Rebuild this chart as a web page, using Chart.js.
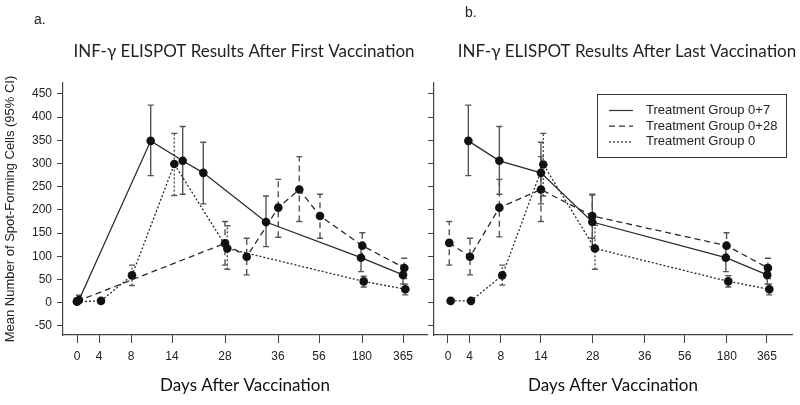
<!DOCTYPE html>
<html lang="en">
<head>
  <meta charset="UTF-8">
  <title>INF-γ ELISPOT</title>
  <script src="https://cdn.jsdelivr.net/npm/chart.js"></script>
  <style>
    body { margin: 0; background: #fff; }
    #wrap { position: relative; width: 800px; height: 405px; }
    canvas { position: absolute; left: 0; top: 0; }
  </style>
</head>
<body>
<div id="wrap">
  <canvas id="chartA" width="800" height="405"></canvas>
  <canvas id="chartB" width="800" height="405"></canvas>
</div>
<script>
  // x axis is not linear in days: each labelled day sits at its own position
  const tickDays = ['0', '4', '8', '14', '28', '36', '56', '180', '365'];
  const tickPos = [0, 22, 54, 95, 148, 201, 242, 285, 326];
  const yTicks = [-50, 0, 50, 100, 150, 200, 250, 300, 350, 400, 450];

  const groupNames = ['Treatment Group 0+7', 'Treatment Group 0+28', 'Treatment Group 0'];

  // a. after first vaccination
  const firstPos07 = [2, 73.7, 105.7, 126.3, 189, 284, 326];
  const firstMean07 = [6, 349, 306, 280, 174, 97, 60];
  const firstLow07 = [0, 274, 234, 213, 121, 67, 40];
  const firstHigh07 = [16, 426, 380, 346, 230, 128, 81];

  const firstPos028 = [0, 148, 169.7, 201.3, 222.3, 243, 285.3, 327.3];
  const firstMean028 = [3, 128, 99, 205, 244, 187, 123, 75];
  const firstLow028 = [0, 81, 60, 141, 175, 139, 95, 52];
  const firstHigh028 = [10, 175, 139, 266, 315, 234, 151, 96];

  const firstPos0 = [0, 24, 55, 97.3, 150.3, 286.7, 328.3];
  const firstMean0 = [2, 4, 59, 299, 117, 46, 29];
  const firstLow0 = [2, 4, 37, 231, 72, 34, 17];
  const firstHigh0 = [2, 4, 81, 365, 166, 57, 40];

  // b. after last vaccination
  const lastPos07 = [20.8, 52.5, 95, 147.5, 284, 326.3];
  const lastMean07 = [349, 306, 280, 174, 97, 60];
  const lastLow07 = [274, 234, 213, 121, 67, 40];
  const lastHigh07 = [426, 380, 346, 232, 128, 81];

  const lastPos028 = [1.3, 22.5, 52.5, 95, 147.5, 284.7, 327];
  const lastMean028 = [129, 99, 205, 244, 187, 123, 75];
  const lastLow028 = [81, 60, 142, 175, 139, 94, 52];
  const lastHigh028 = [175, 139, 266, 315, 234, 151, 96];

  const lastPos0 = [2.7, 23.5, 55.5, 97.4, 150.2, 286.5, 328.4];
  const lastMean0 = [4, 4, 59, 298, 117, 46, 29];
  const lastLow0 = [4, 4, 38, 230, 72, 34, 17];
  const lastHigh0 = [4, 4, 81, 365, 167, 58, 40];

  const dashes = [[], [6, 4], [2, 2]];
  const ink = '#2a2a2a';
  const narrow = '"Liberation Sans Narrow", "Arial Narrow", Arial, sans-serif';
  const arial = 'Arial, "Liberation Sans", sans-serif';

  function series(i, pos, mean, low, high) {
    return {
      label: groupNames[i],
      data: pos.map((x, k) => ({ x: x, y: mean[k], lo: low[k], hi: high[k] })),
      borderColor: ink,
      borderWidth: 1.3,
      borderDash: dashes[i],
      pointRadius: 4.3,
      pointHoverRadius: 4.3,
      pointBackgroundColor: '#111',
      pointBorderWidth: 0,
      fill: false,
      tension: 0
    };
  }

  const errorBars = {
    id: 'errorBars',
    beforeDatasetsDraw(chart) {
      const ctx = chart.ctx, xs = chart.scales.x, ys = chart.scales.y;
      chart.data.datasets.forEach(ds => {
        ds.data.forEach(p => {
          if (p.lo === p.hi) return;
          const x = xs.getPixelForValue(p.x);
          const y1 = ys.getPixelForValue(p.lo), y2 = ys.getPixelForValue(p.hi);
          ctx.save();
          ctx.strokeStyle = '#555';
          ctx.lineWidth = 1.4;
          ctx.setLineDash(ds.borderDash);
          ctx.beginPath(); ctx.moveTo(x, y1); ctx.lineTo(x, y2); ctx.stroke();
          ctx.setLineDash([]);
          ctx.beginPath();
          ctx.moveTo(x - 3, y1); ctx.lineTo(x + 3, y1);
          ctx.moveTo(x - 3, y2); ctx.lineTo(x + 3, y2);
          ctx.stroke();
          ctx.restore();
        });
      });
    }
  };

  const headings = {
    id: 'headings',
    afterDraw(chart, args, opts) {
      const ctx = chart.ctx;
      ctx.save();
      ctx.fillStyle = '#222';
      ctx.textBaseline = 'middle';
      ctx.font = '14px ' + arial;
      ctx.textAlign = 'left';
      ctx.fillText(opts.letter, opts.letterX, opts.letterY);
      ctx.font = '17px Lato, "Open Sans", sans-serif';
      ctx.textAlign = 'center';
      ctx.fillText(opts.title, opts.titleX, opts.titleY);
      ctx.restore();
    }
  };

  const boxLegend = {
    id: 'boxLegend',
    afterDraw(chart, args, opts) {
      if (!opts.show) return;
      const ctx = chart.ctx, area = chart.chartArea;
      const w = 189, h = 63;
      const left = area.right - 6 - w, top = area.top + 11;
      ctx.save();
      ctx.strokeStyle = '#333';
      ctx.lineWidth = 1;
      ctx.strokeRect(left + 0.5, top + 0.5, w, h);
      ctx.font = '13px ' + arial;
      ctx.textBaseline = 'middle';
      ctx.fillStyle = '#222';
      chart.data.datasets.forEach((ds, i) => {
        const y = top + 16.5 + i * 15.7;
        ctx.setLineDash(ds.borderDash);
        ctx.lineWidth = 1.2;
        ctx.beginPath(); ctx.moveTo(left + 12, y); ctx.lineTo(left + 36, y); ctx.stroke();
        ctx.setLineDash([]);
        ctx.fillText(ds.label, left + 49, y);
      });
      ctx.restore();
    }
  };

  function makeChart(id, datasets, cfg) {
    return new Chart(document.getElementById(id), {
      type: 'line',
      data: { datasets: datasets },
      plugins: [errorBars, headings, boxLegend],
      options: {
        responsive: false,
        animation: false,
        events: [],
        layout: { padding: cfg.padding },
        plugins: {
          legend: { display: false },
          tooltip: { enabled: false },
          headings: cfg.headings,
          boxLegend: { show: cfg.legend }
        },
        scales: {
          x: {
            type: 'linear',
            min: cfg.xMin,
            max: cfg.xMax,
            afterBuildTicks: s => { s.ticks = tickPos.map(v => ({ value: v })); },
            afterFit: s => { s.height = 70; },
            grid: { drawOnChartArea: false, drawTicks: true, tickLength: 8, color: '#444' },
            border: { display: true, color: '#444', width: 1.2 },
            ticks: {
              autoSkip: false, maxRotation: 0, padding: 6, color: '#222',
              font: { family: narrow, size: 12 },
              callback: (v, i) => tickDays[i]
            },
            title: {
              display: true, text: 'Days After Vaccination', color: '#111',
              font: { family: 'Lato, "Open Sans", sans-serif', size: 17 },
              padding: { top: 0, bottom: 9 }
            }
          },
          y: {
            type: 'linear',
            min: -69.6,
            max: 473.7,
            afterBuildTicks: s => { s.ticks = yTicks.map(v => ({ value: v })); },
            afterFit: s => { s.width = cfg.yWidth; },
            grid: { drawOnChartArea: false, drawTicks: true, tickLength: 6, color: '#444' },
            border: { display: true, color: '#444', width: 1.2 },
            ticks: {
              padding: 5, color: '#222',
              font: { family: arial, size: 12 },
              callback: v => cfg.yLabels ? String(v) : ''
            },
            title: {
              display: cfg.yLabels, text: 'Mean Number of Spot-Forming Cells (95% CI)', color: '#222',
              font: { family: arial, size: 13 },
              padding: { top: 3, bottom: 0 }
            }
          }
        }
      }
    });
  }

  makeChart('chartA', [
    series(0, firstPos07, firstMean07, firstLow07, firstHigh07),
    series(1, firstPos028, firstMean028, firstLow028, firstHigh028),
    series(2, firstPos0, firstMean0, firstLow0, firstHigh0)
  ], {
    padding: { left: 0, top: 83, right: 373, bottom: 0 },
    yWidth: 63, yLabels: true, legend: false,
    xMin: -14, xMax: 350,
    headings: { letter: 'a.', letterX: 34, letterY: 20, title: 'INF-γ ELISPOT Results After First Vaccination', titleX: 244, titleY: 52 }
  });

  makeChart('chartB', [
    series(0, lastPos07, lastMean07, lastLow07, lastHigh07),
    series(1, lastPos028, lastMean028, lastLow028, lastHigh028),
    series(2, lastPos0, lastMean0, lastLow0, lastHigh0)
  ], {
    padding: { left: 424, top: 83, right: 8, bottom: 0 },
    yWidth: 10, yLabels: false, legend: true,
    xMin: -14.3, xMax: 351.6,
    headings: { letter: 'b.', letterX: 465, letterY: 13, title: 'INF-γ ELISPOT Results After Last Vaccination', titleX: 627, titleY: 52 }
  });
</script>
</body>
</html>
